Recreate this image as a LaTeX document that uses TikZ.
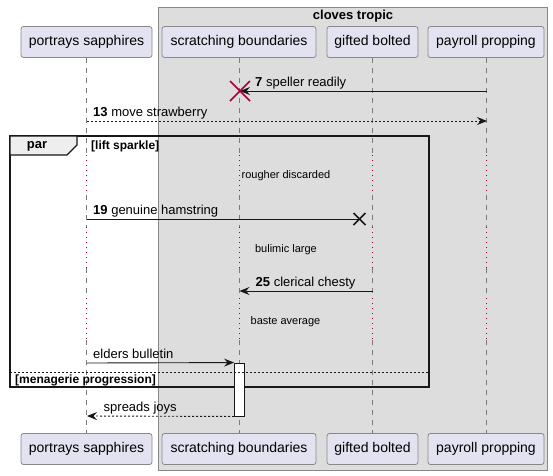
\documentclass[tikz,border=0pt]{standalone}
\usepackage{fontspec}
\setmainfont{Liberation Sans}
\usetikzlibrary{arrows.meta}
\definecolor{partfill}{HTML}{E2E2F0}
\definecolor{grpfill}{HTML}{DDDDDD}
\definecolor{crim}{HTML}{A80036}
\definecolor{lgrey}{HTML}{7A7A7A}
\definecolor{bgrey}{HTML}{888888}
\definecolor{tabfill}{HTML}{EEEEEE}
\definecolor{ink}{HTML}{181818}
\begin{document}
\begin{tikzpicture}[x=1pt,y=-1pt,
  part/.style={draw=bgrey, fill=partfill, rounded corners=2.5pt, minimum height=31pt, inner sep=0pt, font=\fontsize{14}{16}\selectfont, line width=0.8pt},
  life/.style={draw=lgrey, dash pattern=on 5pt off 5pt, line width=0.8pt},
  delayline/.style={draw=crim, dash pattern=on 1pt off 4pt, line width=0.9pt},
  msg/.style={draw=ink, line width=0.9pt, -{Stealth[length=10pt,width=8pt,inset=3.5pt]}},
  ret/.style={msg, dash pattern=on 2pt off 2pt},
  lbl/.style={anchor=base west, inner sep=0pt, font=\fontsize{13}{15}\selectfont},
  dly/.style={anchor=base, inner sep=0pt, font=\fontsize{11}{13}\selectfont},
  grp/.style={anchor=base west, inner sep=0pt, font=\fontsize{12}{14}\selectfont\bfseries},
  cross/.style={line width=1.6pt}
]
\useasboundingbox (0,0) rectangle (553,475);
\fill[white] (0,0) rectangle (553,475);
% group box
\draw[draw=bgrey, fill=grpfill, line width=0.8pt] (158,7) rectangle (547,470);
\node[anchor=base, inner sep=0pt, font=\fontsize{13}{15}\selectfont\bfseries] (grptitle) at (353,19.5) {cloves tropic};
% participants
\node[part, minimum width=131pt] (ps) at (86.5,42) {portrays sapphires};
\node[part, minimum width=154pt] (sb) at (239,42) {scratching boundaries};
\node[part, minimum width=91pt] (gb) at (372.5,42) {gifted bolted};
\node[part, minimum width=116pt] (pp) at (486,42) {payroll propping};
\node[part, minimum width=131pt] (psb) at (86.5,449) {portrays sapphires};
\node[part, minimum width=154pt] (sbb) at (239,449) {scratching boundaries};
\node[part, minimum width=91pt] (gbb) at (372.5,449) {gifted bolted};
\node[part, minimum width=116pt] (ppb) at (486,449) {payroll propping};
% lifelines
\foreach \t/\b in {ps/psb,sb/sbb,gb/gbb,pp/ppb}{
  \draw[life] (\t.south) -- (\t.south |- 0,155);
  \draw[delayline] (\t.south |- 0,155) -- (\t.south |- 0,195);
  \draw[life] (\t.south |- 0,195) -- (\t.south |- 0,227);
  \draw[delayline] (\t.south |- 0,227) -- (\t.south |- 0,268);
  \draw[life] (\t.south |- 0,268) -- (\t.south |- 0,298);
  \draw[delayline] (\t.south |- 0,298) -- (\t.south |- 0,340);
  \draw[life] (\t.south |- 0,340) -- (\b.north);
}
% message 7
\coordinate (m7a) at (487,91);
\coordinate (m7b) at (240,91);
\draw[msg] (m7a) -- (m7b);
\draw[crim, cross] ([shift={(-10,-10)}]m7b) -- ([shift={(10,10)}]m7b);
\draw[crim, cross] ([shift={(-10,10)}]m7b) -- ([shift={(10,-10)}]m7b);
\node[lbl] (l7) at (255,86) {\textbf{7} speller readily};
% message 13
\coordinate (m13a) at (87,121);
\coordinate (m13b) at (487,121);
\draw[ret] (m13a) -- (m13b);
\node[lbl] (l13) at (93,116.5) {\textbf{13} move strawberry};
% par frame
\draw[ink, line width=1.6pt] (10,136) rectangle (429,387);
\draw[ink, fill=tabfill, line width=1.2pt] (10,136) -- (77,136) -- (77,145) -- (67,155) -- (10,155) -- cycle;
\node[anchor=base, inner sep=0pt, font=\fontsize{13}{15}\selectfont\bfseries] (partab) at (37,148) {par};
\node[grp] (g1) at (91,149) {[lift sparkle]};
% delay 1
\node[dly] (d1) at (286,178.5) {rougher discarded};
% message 19 (lost)
\coordinate (m19a) at (87,219);
\coordinate (m19b) at (359.5,219);
\draw[draw=ink, line width=0.9pt] (m19a) -- (m19b);
\draw[ink, line width=1.5pt] ([shift={(-6,-6)}]m19b) -- ([shift={(6,6)}]m19b);
\draw[ink, line width=1.5pt] ([shift={(-6,6)}]m19b) -- ([shift={(6,-6)}]m19b);
\node[lbl] (l19) at (93,214.5) {\textbf{19} genuine hamstring};
% delay 2
\node[dly] (d2) at (286,252.5) {bulimic large};
% message 25
\coordinate (m25a) at (372.5,291);
\coordinate (m25b) at (239.5,291);
\draw[msg] (m25a) -- (m25b);
\node[lbl] (l25) at (255.5,286.5) {\textbf{25} clerical chesty};
% delay 3
\node[dly] (d3) at (285.5,324.5) {baste average};
% activation
\node[draw=ink, fill=white, line width=0.9pt, minimum width=10pt, minimum height=53pt, inner sep=0pt] (act) at (239.5,389.5) {};
% message elders
\coordinate (mea) at (87,363);
\draw[msg] (mea) -- (act.north west);
\node[lbl] (le) at (93,358) {elders bulletin};
% else
\draw[ink, line width=0.8pt, dash pattern=on 2pt off 2pt] (10,372) -- (429,372);
\node[grp] (g2) at (15,383) {[menagerie progression]};
% return
\coordinate (mra) at (87,416);
\draw[ret] (act.south west) -- (mra);
\node[lbl] (lr) at (103.5,411.5) {spreads joys};
\end{tikzpicture}
\end{document}
